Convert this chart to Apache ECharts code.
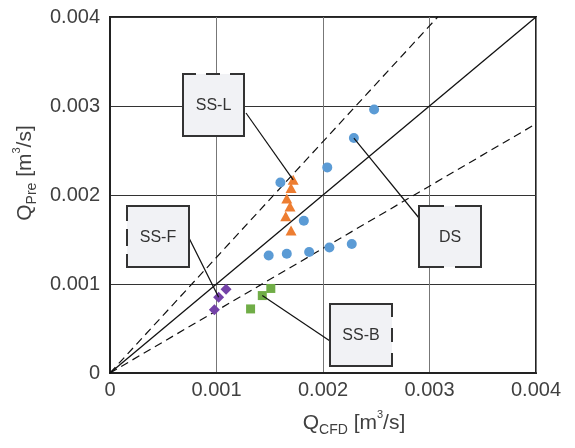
<!DOCTYPE html>
<html>
<head>
<meta charset="utf-8">
<script src="https://cdn.jsdelivr.net/npm/echarts@6/dist/echarts.min.js"></script>
<style>
  html, body { margin: 0; padding: 0; background: #fff; }
  #chart { width: 575px; height: 448px; }
</style>
</head>
<body>
<div id="chart"></div>
<script>
  // [Q_CFD, Q_Pre]
  const dsData = [
    [0.00248, 0.00296], [0.00229, 0.00264], [0.00204, 0.00231], [0.00160, 0.00214],
    [0.00182, 0.00171], [0.00149, 0.00132], [0.00166, 0.00134], [0.00187, 0.00136],
    [0.00206, 0.00141], [0.00227, 0.00145]
  ]
  const sslData = [
    [0.00172, 0.00217], [0.00170, 0.00208], [0.00166, 0.00196],
    [0.00169, 0.00187], [0.00165, 0.00176], [0.00170, 0.00160]
  ]
  const ssfData = [[0.00109, 0.00094], [0.00102, 0.00085], [0.00098, 0.00071]]
  const ssbData = [[0.00151, 0.00095], [0.00143, 0.00087], [0.00132, 0.00072]]

  const axisMax = 0.004
  const refRatios = [1, 1.3, 0.7] // y = k * x

  const chart = echarts.init(document.getElementById('chart'))
  const font = 'Liberation Sans, Arial, sans-serif'

  function refLine(k) {
    const end = k >= 1 ? [axisMax / k, axisMax] : [axisMax, axisMax * k]
    return {
      type: 'line',
      data: [[0, 0], end],
      symbol: 'none',
      silent: true,
      z: 1,
      lineStyle: {color: '#111', width: k === 1 ? 1.3 : 1.2, type: k === 1 ? 'solid' : [8, 5]}
    }
  }

  const nameRich = {
    a: {fontSize: 21, color: '#404040', fontFamily: font, lineHeight: 28},
    b: {fontSize: 14, color: '#404040', fontFamily: font, lineHeight: 13, verticalAlign: 'bottom'},
    c: {fontSize: 11, color: '#404040', fontFamily: font, lineHeight: 11, verticalAlign: 'top'}
  }
  const tickLabel = v => v === 0 ? '0' : v.toFixed(3)

  chart.setOption({
    animation: false,
    grid: {
      left: 110, top: 17, width: 426, height: 356,
      show: true, borderColor: '#222', borderWidth: 2
    },
    xAxis: {
      type: 'value', min: 0, max: axisMax, interval: 0.001,
      name: '{a|Q}{b|CFD}{a| [m}{c|3}{a|/s]}',
      nameLocation: 'middle', nameGap: 36,
      nameTextStyle: {rich: nameRich, fontSize: 21, padding: [0, 0, 0, 62]},
      axisLine: {lineStyle: {color: '#222', width: 2}},
      axisTick: {show: false},
      axisLabel: {fontSize: 20, color: '#404040', fontFamily: font, margin: 7, formatter: tickLabel},
      splitLine: {lineStyle: {color: '#777', width: 1}}
    },
    yAxis: {
      type: 'value', min: 0, max: axisMax, interval: 0.001,
      name: '{a|Q}{b|Pre}{a| [m}{c|3}{a|/s]}',
      nameLocation: 'middle', nameGap: 70, nameRotate: 90,
      nameTextStyle: {rich: nameRich, fontSize: 21, padding: [0, 0, 0, 44]},
      axisLine: {lineStyle: {color: '#222', width: 2}},
      axisTick: {show: false},
      axisLabel: {fontSize: 20, color: '#404040', fontFamily: font, margin: 10, formatter: tickLabel},
      splitLine: {lineStyle: {color: '#333', width: 1}}
    },
    series: [
      ...refRatios.map(refLine),
      {name: 'DS', type: 'scatter', data: dsData, symbol: 'circle', symbolSize: 10,
        itemStyle: {color: '#5B9BD5', opacity: 1}, z: 3},
      {name: 'SS-L', type: 'scatter', data: sslData, symbol: 'triangle', symbolSize: [11, 10],
        itemStyle: {color: '#ED7D31', opacity: 1}, z: 3},
      {name: 'SS-F', type: 'scatter', data: ssfData, symbol: 'diamond', symbolSize: 11,
        itemStyle: {color: '#7442A8', opacity: 1}, z: 3},
      {name: 'SS-B', type: 'scatter', data: ssbData, symbol: 'rect', symbolSize: 9,
        itemStyle: {color: '#70AD47', opacity: 1}, z: 3}
    ]
  })

  // callout boxes (pixel placement) with leader lines to a data point
  const callouts = [
    {text: 'SS-L', box: [183, 74, 61, 62], gaps: {top: [12, 12]}, from: [246, 113], point: sslData[0]},
    {text: 'DS', box: [419, 206, 62, 61], gaps: {top: [24, 13], bottom: [24, 13]}, from: [419, 218], point: dsData[1]},
    {text: 'SS-F', box: [127, 206, 62, 61], gaps: {left: [14, 10, 15, 10]}, from: [189, 238], point: ssfData[1]},
    {text: 'SS-B', box: [330, 304, 62, 62], gaps: {right: [12, 13]}, from: [330, 341], point: ssbData[1]}
  ]

  const graphics = []
  callouts.forEach(c => {
    const [x, y, w, h] = c.box
    const p = chart.convertToPixel({gridIndex: 0}, c.point)
    graphics.push({type: 'line', z: 10, shape: {x1: c.from[0], y1: c.from[1], x2: p[0], y2: p[1]},
      style: {stroke: '#111', lineWidth: 1.2}})
    graphics.push({type: 'rect', z: 11, shape: {x: x, y: y, width: w, height: h},
      style: {fill: '#F1F2F5'}})
    const sides = {
      top: [x, y, x + w, y], bottom: [x, y + h, x + w, y + h],
      left: [x, y, x, y + h], right: [x + w, y, x + w, y + h]
    }
    Object.keys(sides).forEach(k => {
      const s = sides[k]
      graphics.push({type: 'line', z: 12, shape: {x1: s[0], y1: s[1], x2: s[2], y2: s[3]},
        style: {stroke: '#333', lineWidth: 2, lineDash: c.gaps[k] || null, lineCap: 'square'}})
    })
    graphics.push({type: 'text', z: 13, x: x + w / 2, y: y + h / 2 + 1,
      style: {text: c.text, font: '16px ' + font, fill: '#333', align: 'center', verticalAlign: 'middle'}})
  })
  chart.setOption({graphic: graphics})
</script>
</body>
</html>
